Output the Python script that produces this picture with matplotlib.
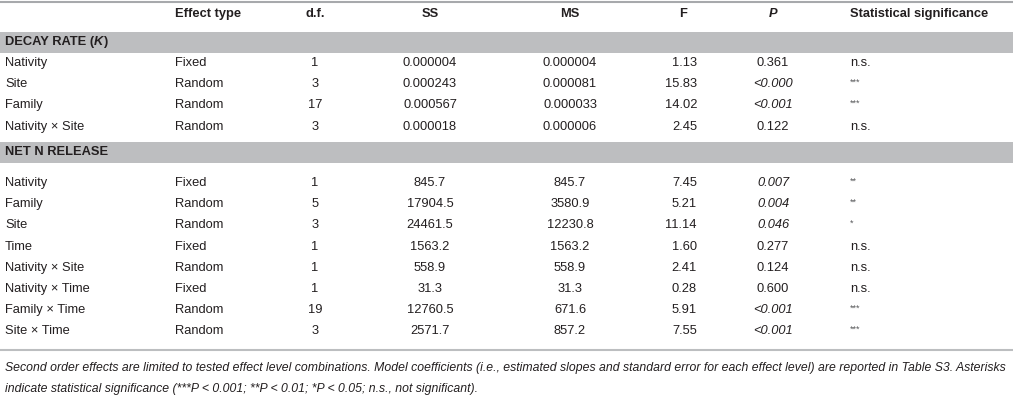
import matplotlib.pyplot as plt

# ---- data ----
columns = ["", "Effect type", "d.f.", "SS", "MS", "F", "P", "Statistical significance"]

decay_source = ["Nativity", "Site", "Family", "Nativity × Site"]
decay_effect = ["Fixed", "Random", "Random", "Random"]
decay_df = ["1", "3", "17", "3"]
decay_ss = ["0.000004", "0.000243", "0.000567", "0.000018"]
decay_ms = ["0.000004", "0.000081", "0.000033", "0.000006"]
decay_f = ["1.13", "15.83", "14.02", "2.45"]
decay_p = ["0.361", "<0.000", "<0.001", "0.122"]
decay_p_italic = [False, True, True, False]
decay_sig = ["n.s.", "***", "***", "n.s."]

net_source = ["Nativity", "Family", "Site", "Time", "Nativity × Site",
              "Nativity × Time", "Family × Time", "Site × Time"]
net_effect = ["Fixed", "Random", "Random", "Fixed", "Random", "Fixed", "Random", "Random"]
net_df = ["1", "5", "3", "1", "1", "1", "19", "3"]
net_ss = ["845.7", "17904.5", "24461.5", "1563.2", "558.9", "31.3", "12760.5", "2571.7"]
net_ms = ["845.7", "3580.9", "12230.8", "1563.2", "558.9", "31.3", "671.6", "857.2"]
net_f = ["7.45", "5.21", "11.14", "1.60", "2.41", "0.28", "5.91", "7.55"]
net_p = ["0.007", "0.004", "0.046", "0.277", "0.124", "0.600", "<0.001", "<0.001"]
net_p_italic = [True, True, True, False, False, False, True, True]
net_sig = ["**", "**", "*", "n.s.", "n.s.", "n.s.", "***", "***"]

footnote = ["Second order effects are limited to tested effect level combinations. Model coefficients "
            "(i.e., estimated slopes and standard error for each effect level) are reported in Table S3. Asterisks",
            "indicate statistical significance (***P < 0.001; **P < 0.01; *P < 0.05; n.s., not significant)."]

plt.rcParams['font.family'] = ['Liberation Sans', 'DejaVu Sans']

W, H = 1016, 409
fig = plt.figure(figsize=(W / 100, H / 100), dpi=100)
ax = fig.add_axes([0, 0, 1, 1])
ax.set_xlim(0, W)
ax.set_ylim(H, 0)
ax.axis("off")

txt = "#231f20"
fs = 9.3
band = "#bdbec0"

# column anchors (x, alignment)
col_x = [5, 175, 315, 430, 570, 697, 773, 850]
col_ha = ["left", "left", "center", "center", "center", "right", "center", "left"]

# top rule
ax.plot([0, 1013], [2, 2], color="#a7a9ac", lw=1.5, solid_capstyle="butt")

# header
y_head = 14
for x, ha, name in zip(col_x[1:], col_ha[1:], columns[1:]):
    if name == "P":
        ax.text(x, y_head, name, ha=ha, va="center", fontsize=fs, fontweight="bold",
                style="italic", color=txt)
    elif name == "F":
        ax.text(683, y_head, name, ha="center", va="center", fontsize=fs,
                fontweight="bold", color=txt)
    else:
        ax.text(x, y_head, name, ha=ha, va="center", fontsize=fs, fontweight="bold", color=txt)


def section_band(y, label, italic_part=None):
    ax.fill_between([0, 1013], y - 10.5, y + 10.5, color=band, lw=0)
    t = ax.text(5, y, label, ha="left", va="center", fontsize=fs, fontweight="bold", color=txt)
    if italic_part is not None:
        fig.canvas.draw()
        x_end = t.get_window_extent().x1
        t2 = ax.text(x_end, y, italic_part[0], ha="left", va="center", fontsize=fs,
                     fontweight="bold", style="italic", color=txt)
        fig.canvas.draw()
        ax.text(t2.get_window_extent().x1, y, italic_part[1], ha="left", va="center",
                fontsize=fs, fontweight="bold", color=txt)


def rows(y0, step, source, effect, df, ss, ms, f, p, p_it, sig):
    for i in range(len(source)):
        y = y0 + i * step
        vals = [source[i], effect[i], df[i], ss[i], ms[i], f[i], p[i], sig[i]]
        for j, (x, ha, v) in enumerate(zip(col_x, col_ha, vals)):
            if j == 7 and v.startswith("*"):
                ax.text(x, y - 2, v, ha=ha, va="center", fontsize=6.5, color="#58595b")
            elif j == 6 and p_it[i]:
                ax.text(x, y, v, ha=ha, va="center", fontsize=fs, style="italic", color=txt)
            else:
                ax.text(x, y, v, ha=ha, va="center", fontsize=fs, color=txt)


section_band(42, "DECAY RATE (", ("K", ")"))
rows(63, 21.2, decay_source, decay_effect, decay_df, decay_ss, decay_ms,
     decay_f, decay_p, decay_p_italic, decay_sig)

section_band(152, "NET N RELEASE")
rows(183, 21.2, net_source, net_effect, net_df, net_ss, net_ms,
     net_f, net_p, net_p_italic, net_sig)

# bottom rule
ax.plot([0, 1013], [350, 350], color="#bcbec0", lw=1.5, solid_capstyle="butt")

for k, line in enumerate(footnote):
    ax.text(5, 368 + 21 * k, line, ha="left", va="center", fontsize=8.8,
            style="italic", color=txt)

fig.savefig("out.png", dpi=100)
